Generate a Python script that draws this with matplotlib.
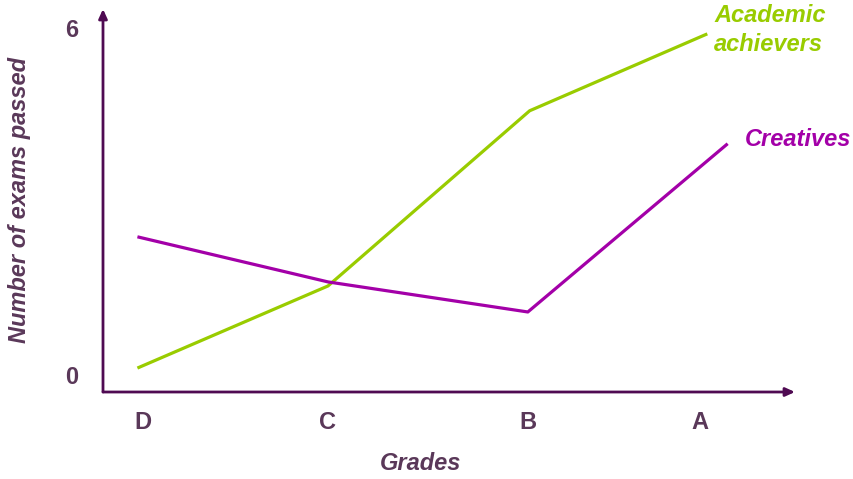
import matplotlib.pyplot as plt

# grade positions along the x axis (D, C, B, A)
grades = ['D', 'C', 'B', 'A']
grade_pos = [0, 1, 2.08, 3.01]

# exams passed per grade for the two groups
academic_x = [-0.03, 1.0, 2.09, 3.05]
academic_y = [0.12, 1.54, 4.57, 5.9]
creative_x = [-0.03, 1.0, 2.08, 3.16]
creative_y = [2.39, 1.61, 1.09, 4.0]

axis_col = '#4F0A52'
text_col = '#5A3859'
green = '#99CC00'
purple = '#A300A8'

W, H = 854, 479
fig = plt.figure(figsize=(W / 100, H / 100), dpi=100)
ax = fig.add_axes([103 / W, 1 - 392 / H, (795 - 103) / W, (392 - 9) / H])

ax.plot(academic_x, academic_y, color=green, lw=2.3, solid_capstyle='butt')
ax.plot(creative_x, creative_y, color=purple, lw=2.3, solid_capstyle='butt')

ax.set_xlim(-0.216, 3.524)
ax.set_ylim(-0.294, 6.33)

for s in ax.spines.values():
    s.set_visible(False)

# axis lines with arrow heads
arrow = dict(arrowstyle='-|>,head_length=0.55,head_width=0.25', color=axis_col, lw=2,
             shrinkA=0, shrinkB=0)
ax.annotate('', xy=(1, 0), xytext=(0, 0), xycoords='axes fraction', arrowprops=arrow)
ax.annotate('', xy=(0, 1), xytext=(0, 0), xycoords='axes fraction', arrowprops=arrow)

font = dict(family='Liberation Sans', weight='bold', size=17, color=text_col)

ax.set_xticks(grade_pos)
ax.set_xticklabels(grades, fontdict=font)
ax.set_yticks([0, 6])
ax.set_yticklabels(['0', '6'], fontdict=font)
ax.tick_params(length=0)
ax.tick_params(axis='x', pad=14)
ax.tick_params(axis='y', pad=18)

# axis titles
fig.text(421 / W, 1 - 464 / H, 'Grades', fontdict=font, style='italic',
         ha='center', va='center')
fig.text(20 / W, 1 - 200 / H, 'Number of exams passed', fontdict=font, style='italic',
         ha='center', va='center', rotation=90)

# series labels
fig.text(714 / W, 1 - 30 / H, 'Academic\nachievers', family='Liberation Sans',
         weight='bold', style='italic', size=17, color=green, va='center',
         ha='left', linespacing=1.3)
fig.text(745 / W, 1 - 140 / H, 'Creatives', family='Liberation Sans',
         weight='bold', style='italic', size=17, color=purple, va='center', ha='left')

fig.savefig('out.png', dpi=100)
